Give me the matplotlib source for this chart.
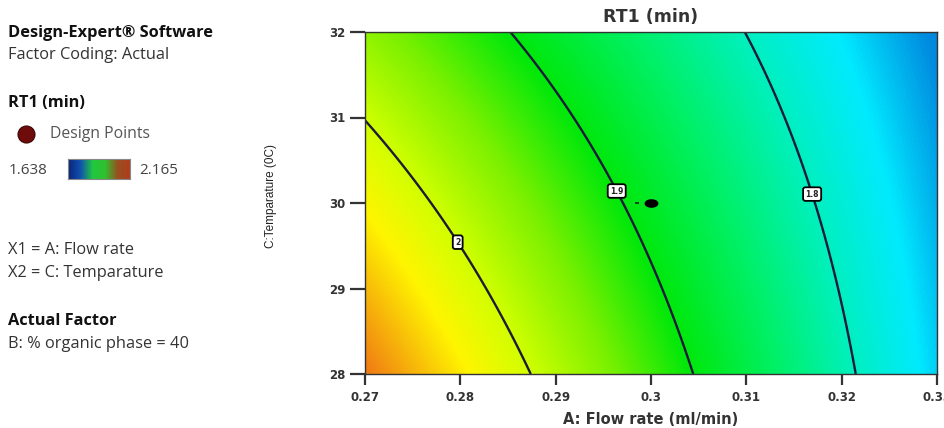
import numpy as np
import matplotlib
matplotlib.use("Agg")
import matplotlib.pyplot as plt
import matplotlib.colors as mcolors
import matplotlib.path as mpath
import matplotlib.transforms as mtransforms

# response surface RT1 (min) in coded units, a = A coded, c = C coded
# terms: intercept, a, c, a*c, a^2, c^2
MODEL_TERMS = ["1", "a", "c", "ac", "a2", "c2"]
MODEL_COEF = [1.8854, -0.149, -0.043, 0.027, 0.0, -0.0024]
A_CENTER, A_HALF = 0.30, 0.03   # flow rate (ml/min)
C_CENTER, C_HALF = 30.0, 2.0    # temperature

RT_MIN, RT_MAX = 1.638, 2.165
CONTOUR_LEVELS = [1.8, 1.9, 2.0]
LABEL_SPOTS_A = [0.3165, 0.2964, 0.2797]
LABEL_SPOTS_C = [30.09, 30.14, 29.54]

DESIGN_A = [0.30]
DESIGN_C = [30.0]

X_TICKS = [0.27, 0.28, 0.29, 0.30, 0.31, 0.32, 0.33]
X_TICK_LABELS = ["0.27", "0.28", "0.29", "0.3", "0.31", "0.32", "0.33"]
Y_TICKS = [28, 29, 30, 31, 32]

INFO_LINES = [
    ("Design-Expert\u00ae Software", True, 33),
    ("Factor Coding: Actual", False, 55),
    ("RT1 (min)", True, 103),
    ("X1 = A: Flow rate", False, 250),
    ("X2 = C: Temparature", False, 273),
    ("Actual Factor", True, 321),
    ("B: % organic phase = 40", False, 344),
]

W, H = 945, 428
FONT = ["Open Sans", "DejaVu Sans"]

# colour scale (fraction of RT range -> colour)
surf_cmap = mcolors.LinearSegmentedColormap.from_list("de", [
    (0.00, "#0010b0"),
    (0.12, "#0078dc"),
    (0.16, "#008ce0"),
    (0.23, "#00eaff"),
    (0.31, "#00f0bc"),
    (0.40, "#00f064"),
    (0.50, "#00e80a"),
    (0.59, "#78f000"),
    (0.69, "#d2ff00"),
    (0.76, "#fff500"),
    (0.88, "#f07a14"),
    (1.00, "#c82800"),
])
legend_cmap = mcolors.LinearSegmentedColormap.from_list("leg", [
    "#0a2478", "#1050b0", "#20c840", "#30c030", "#985020", "#b03c1c"])


def rt1(A, C):
    a = (A - A_CENTER) / A_HALF
    c = (C - C_CENTER) / C_HALF
    terms = {"1": np.ones_like(a), "a": a, "c": c, "ac": a * c,
             "a2": a * a, "c2": c * c}
    return sum(b * terms[t] for t, b in zip(MODEL_TERMS, MODEL_COEF))


fig = plt.figure(figsize=(W / 100, H / 100), dpi=100)
ax = fig.add_axes([365 / W, 1 - 374 / H, (937 - 365) / W, (374 - 32) / H])

A_grid = np.linspace(0.27, 0.33, 400)
C_grid = np.linspace(28, 32, 300)
AA, CC = np.meshgrid(A_grid, C_grid)
Z = rt1(AA, CC)

ax.imshow(Z, extent=[0.27, 0.33, 28, 32], origin="lower", aspect="auto",
          cmap=surf_cmap, vmin=RT_MIN, vmax=RT_MAX, interpolation="bilinear")
cs = ax.contour(AA, CC, Z, levels=CONTOUR_LEVELS, colors="#1c1c38",
                linewidths=1.7)
labels = ax.clabel(cs, fmt=lambda v: "%g" % v, fontsize=5.5, inline=False,
                   manual=list(zip(LABEL_SPOTS_A, LABEL_SPOTS_C)))
for t in labels:
    t.set_rotation(0)
    t.set_fontweight("bold")
    t.set_color("#222222")
    t.set_bbox(dict(boxstyle="round,pad=0.3", fc="white", ec="black",
                    lw=1.3))

# design point (center point), drawn as a flat dot, and its replicate mark
flat_dot = mpath.Path.unit_circle().transformed(
    mtransforms.Affine2D().scale(1.0, 0.58))
ax.scatter(DESIGN_A, DESIGN_C, s=80, marker=flat_dot, color="black",
           zorder=5)
ax.plot([a - 0.0015 for a in DESIGN_A], DESIGN_C, marker="_", ms=3.5,
        mew=1.2, color="#222222", ls="none", zorder=5)

ax.set_xlim(0.27, 0.33)
ax.set_ylim(28, 32)
ax.set_xticks(X_TICKS)
ax.set_xticklabels(X_TICK_LABELS)
ax.set_yticks(Y_TICKS)
ax.tick_params(axis="both", direction="out", width=1.6, colors="#333333",
               labelsize=8.5)
ax.tick_params(axis="x", length=8, pad=4)
ax.tick_params(axis="y", length=11, pad=3)
for lab in ax.get_xticklabels() + ax.get_yticklabels():
    lab.set_fontweight("bold")
    lab.set_family(["DejaVu Sans"])
for s in ax.spines.values():
    s.set_color("#333333")
    s.set_linewidth(1.0)

ax.set_title("RT1 (min)", fontsize=12.5, color="#333333", pad=7,
             fontweight="bold", family=["DejaVu Sans"])
ax.set_xlabel("A: Flow rate (ml/min)", fontsize=10.5, color="#333333",
              fontweight="bold", family=["DejaVu Sans"])
ax.xaxis.set_label_coords(0.5, -(412 - 374) / (374 - 32))
ax.set_ylabel("C:Temparature (0C)", fontsize=8.5, color="#222222",
              family=["Liberation Sans Narrow", "Liberation Sans"])
ax.yaxis.set_label_coords(-(365 - 277) / (937 - 365), (374 - 196) / (374 - 32))

# left information panel
for text, bold, ypx in INFO_LINES:
    fig.text(8 / W, 1 - ypx / H, text, fontsize=11.8,
             fontweight="bold" if bold else "normal",
             color="#111111" if bold else "#333333", va="center",
             ha="left", family=FONT)

fig.text(50 / W, 1 - 134 / H, "Design Points", fontsize=11.3,
         color="#555555", va="center", family=FONT)
fig.text(9 / W, 1 - 171 / H, "1.638", fontsize=11, color="#444444",
         va="center", family=FONT)
fig.text(139 / W, 1 - 171 / H, "2.165", fontsize=11, color="#444444",
         va="center", family=FONT)
dot_ax = fig.add_axes([0, 0, 1, 1], facecolor="none")
dot_ax.set_xlim(0, W)
dot_ax.set_ylim(H, 0)
dot_ax.axis("off")
dot_ax.scatter([26], [134], s=150, color="#6e0c0c", edgecolor="#3a0505",
               lw=0.8)

cbar_ax = fig.add_axes([68 / W, 1 - 179 / H, 62 / W, 20 / H])
cbar_ax.imshow(np.linspace(0, 1, 256)[None, :], aspect="auto",
               cmap=legend_cmap)
cbar_ax.set_xticks([])
cbar_ax.set_yticks([])
for s in cbar_ax.spines.values():
    s.set_color("#888888")
    s.set_linewidth(0.8)

fig.savefig("out.png", dpi=100)
